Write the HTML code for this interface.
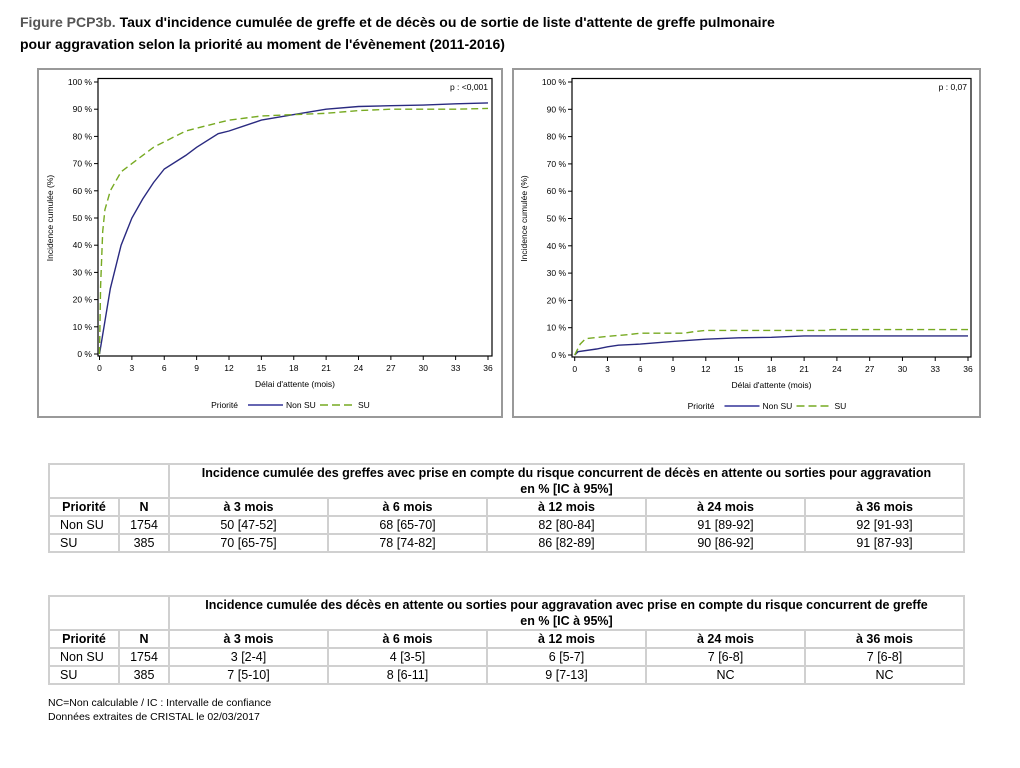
<!DOCTYPE html>
<html><head><meta charset="utf-8"><style>
body{margin:0;background:#fff;width:1020px;height:768px;position:relative;font-family:"Liberation Sans",Arial,sans-serif;overflow:hidden}
.t{position:absolute;left:20px;font-size:14px;font-weight:bold;color:#000}
table{position:absolute;border-collapse:collapse;font-size:12.5px;left:48px;width:917px;table-layout:fixed}
td{border:2px solid #d0d0d0;text-align:center;padding:0;height:16px;line-height:15px}
.h td{font-weight:bold}
.l{text-align:left;padding-left:10px}
.foot{position:absolute;left:48px;font-size:10.5px}
</style></head><body>
<div class="t" style="top:14px"><span style="color:#555">Figure PCP3b.</span> Taux d'incidence cumulée de greffe et de décès ou de sortie de liste d'attente de greffe pulmonaire</div>
<div class="t" style="top:36px">pour aggravation selon la priorité au moment de l'évènement (2011-2016)</div>
<svg id="s" width="1020" height="440" style="position:absolute;left:0;top:0" font-family="Liberation Sans,Arial,sans-serif"></svg>
<table style="top:463px">
<colgroup><col style="width:70px"><col style="width:50px"><col><col><col><col><col></colgroup>
<tr class="h"><td colspan="2" style="height:32px"></td><td colspan="5" style="line-height:16px">Incidence cumulée des greffes avec prise en compte du risque concurrent de décès en attente ou sorties pour aggravation<br>en % [IC à 95%]</td></tr>
<tr class="h"><td>Priorité</td><td>N</td><td>à 3 mois</td><td>à 6 mois</td><td>à 12 mois</td><td>à 24 mois</td><td>à 36 mois</td></tr>
<tr><td class="l">Non SU</td><td>1754</td><td>50 [47-52]</td><td>68 [65-70]</td><td>82 [80-84]</td><td>91 [89-92]</td><td>92 [91-93]</td></tr>
<tr><td class="l">SU</td><td>385</td><td>70 [65-75]</td><td>78 [74-82]</td><td>86 [82-89]</td><td>90 [86-92]</td><td>91 [87-93]</td></tr>
</table>
<table style="top:595px">
<colgroup><col style="width:70px"><col style="width:50px"><col><col><col><col><col></colgroup>
<tr class="h"><td colspan="2" style="height:32px"></td><td colspan="5" style="line-height:16px">Incidence cumulée des décès en attente ou sorties pour aggravation avec prise en compte du risque concurrent de greffe<br>en % [IC à 95%]</td></tr>
<tr class="h"><td>Priorité</td><td>N</td><td>à 3 mois</td><td>à 6 mois</td><td>à 12 mois</td><td>à 24 mois</td><td>à 36 mois</td></tr>
<tr><td class="l">Non SU</td><td>1754</td><td>3 [2-4]</td><td>4 [3-5]</td><td>6 [5-7]</td><td>7 [6-8]</td><td>7 [6-8]</td></tr>
<tr><td class="l">SU</td><td>385</td><td>7 [5-10]</td><td>8 [6-11]</td><td>9 [7-13]</td><td>NC</td><td>NC</td></tr>
</table>
<div class="foot" style="top:697px">NC=Non calculable / IC : Intervalle de confiance</div>
<div class="foot" style="top:711px">Données extraites de CRISTAL le 02/03/2017</div>
<script>
var s=document.getElementById('s'),h='';
function chart(fx0,fx1,px0,px1,x0,x36,y0,y100,ptxt,a,b){
 var X=m=>x0+m*(x36-x0)/36,Y=p=>y0-p*(y0-y100)/100;
 h+='<rect x="'+fx0+'" y="69" width="'+(fx1-fx0)+'" height="348" fill="none" stroke="#999" stroke-width="2"/>';
 h+='<rect x="'+px0+'" y="78.5" width="'+(px1-px0)+'" height="'+(y0+2-78.5)+'" fill="none" stroke="#000" stroke-width="1.2"/>';
 for(var p=0;p<=100;p+=10){var y=Y(p);h+='<line x1="'+(px0-4)+'" x2="'+px0+'" y1="'+y+'" y2="'+y+'" stroke="#000"/><text x="'+(px0-6)+'" y="'+(y+3)+'" font-size="8.5" text-anchor="end">'+p+' %</text>';}
 for(var m=0;m<=36;m+=3){var x=X(m);h+='<line x1="'+x+'" x2="'+x+'" y1="'+(y0+2)+'" y2="'+(y0+6)+'" stroke="#000"/><text x="'+x+'" y="'+(y0+17)+'" font-size="8.5" text-anchor="middle">'+m+'</text>';}
 var cx=(px0+px1)/2;
 h+='<text x="'+cx+'" y="'+(y0+33)+'" font-size="8.5" text-anchor="middle">Délai d\'attente (mois)</text>';
 h+='<text x="'+(px0-45)+'" y="'+((y0+y100)/2)+'" font-size="8.5" text-anchor="middle" transform="rotate(-90 '+(px0-45)+' '+((y0+y100)/2)+')">Incidence cumulée (%)</text>';
 h+='<text x="'+(px1-4)+'" y="90" font-size="8.5" text-anchor="end">'+ptxt+'</text>';
 var ly=y0+51;
 h+='<text x="'+(cx-57)+'" y="'+(ly+3)+'" font-size="8.5" text-anchor="end">Priorité</text><line x1="'+(cx-47)+'" x2="'+(cx-12)+'" y1="'+ly+'" y2="'+ly+'" stroke="#333399" stroke-width="1.5"/><text x="'+(cx-9)+'" y="'+(ly+3)+'" font-size="8.5">Non SU</text><line x1="'+(cx+25)+'" x2="'+(cx+60)+'" y1="'+ly+'" y2="'+ly+'" stroke="#77aa22" stroke-width="1.5" stroke-dasharray="8,4"/><text x="'+(cx+63)+'" y="'+(ly+3)+'" font-size="8.5">SU</text>';
 function path(d,c,da){h+='<polyline fill="none" stroke="'+c+'" stroke-width="1.4" '+(da?'stroke-dasharray="7,4" ':'')+'points="'+d.map(q=>X(q[0]).toFixed(1)+','+Y(q[1]).toFixed(1)).join(' ')+'"/>';}
 path(a,'#2a2a80',0);path(b,'#77aa22',1);
}
chart(38,502,98,492,99.5,488,354,82,'p : <0,001',
[[0,0],[0.5,12],[1,24],[2,40],[3,50],[4,57],[5,63],[6,68],[8,73],[9,76],[11,81],[12,82],[15,86],[18,88],[21,90],[24,91],[27,91.3],[30,91.5],[33,92],[36,92.3]],
[[0,0],[0.1,25],[0.3,45],[0.5,53],[1,60],[2,67],[3,70],[4,73],[5,76],[6,78],[8,82],[9,83],[10,84],[12,86],[15,87.5],[18,88],[21,88.5],[24,89.5],[27,90],[33,90],[36,90.3]]);
chart(513,980,572,971,574.7,968,355,82,'p : 0,07',
[[0,0],[0.3,1.2],[2,2.2],[3,3],[4,3.6],[6,4],[9,5],[12,5.8],[15,6.3],[18,6.5],[21,7],[36,7]],
[[0,0],[0.5,4],[1,6],[3,6.8],[5,7.5],[6,8],[10,8],[11,8.6],[12,9],[23,9],[23.5,9.3],[36,9.3]]);
s.innerHTML=h;
</script>
</body></html>
